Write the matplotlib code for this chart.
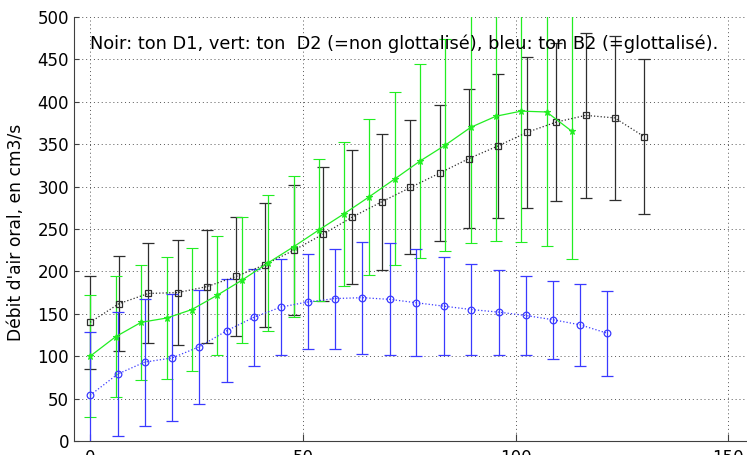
import matplotlib.pyplot as plt

# ton D1 (noir)
x_noir = [0, 6.8, 13.7, 20.6, 27.4, 34.3, 41.1, 47.9, 54.8, 61.6,
          68.5, 75.3, 82.2, 89.0, 95.9, 102.7, 109.5, 116.5, 123.3, 130.2]
y_noir = [140, 162, 174, 175, 182, 194, 208, 225, 244, 264,
          282, 299, 316, 333, 348, 364, 376, 384, 381, 359]
e_noir = [55, 56, 59, 62, 67, 70, 73, 77, 79, 79,
          80, 79, 80, 82, 85, 89, 93, 97, 97, 91]

# ton D2, non glottalisé (vert)
x_vert = [0, 6.0, 12.0, 18.0, 23.9, 29.9, 35.8, 41.8, 47.8, 53.8,
          59.7, 65.6, 71.6, 77.5, 83.5, 89.5, 95.4, 101.3, 107.3, 113.3]
y_vert = [100, 123, 140, 145, 155, 172, 190, 210, 229, 249,
          268, 288, 309, 330, 349, 370, 383, 389, 388, 365]
e_vert = [72, 71, 68, 72, 73, 70, 74, 80, 83, 84,
          85, 92, 102, 114, 125, 136, 147, 154, 158, 150]

# ton B2, glottalisé (bleu)
x_bleu = [0, 6.5, 12.8, 19.3, 25.6, 32.1, 38.5, 44.9, 51.2, 57.6,
          64.0, 70.5, 76.7, 83.2, 89.6, 96.0, 102.4, 108.8, 115.2, 121.6]
y_bleu = [54, 79, 93, 98, 111, 130, 146, 158, 164, 168,
          169, 167, 163, 159, 155, 152, 148, 143, 137, 127]
e_bleu = [74, 73, 75, 75, 67, 61, 57, 57, 56, 59,
          66, 66, 63, 58, 54, 50, 46, 46, 48, 50]

x_ticks = [0, 50, 100, 150]
y_ticks = list(range(0, 501, 50))

titre = "Noir: ton D1, vert: ton  D2 (=non glottalisé), bleu: ton B2 (=glottalisé)."
label_y = "Débit d'air oral, en cm3/s"


def main():
	plt.rcParams['font.family'] = ['DejaVu Sans']

	fig = plt.figure(figsize=(7.47, 4.55), dpi=100)
	# l'axe déborde à droite, comme la figure d'origine recadrée
	ax = fig.add_axes([74 / 747, 14 / 455, 696.8 / 747, 424 / 455])

	noir = '#2e2e2e'
	vert = '#22ee22'
	bleu = '#3a3aff'

	ax.errorbar(x_noir, y_noir, yerr=e_noir, fmt='s:', color=noir, ecolor=noir,
				mfc='none', mec=noir, ms=4.5, mew=0.9, lw=0.9, elinewidth=0.9,
				capsize=4.3, capthick=0.9)
	ax.errorbar(x_vert, y_vert, yerr=e_vert, fmt='*-', color=vert, ecolor=vert,
				mec=vert, ms=5, mew=0.8, lw=0.9, elinewidth=0.9,
				capsize=4.3, capthick=0.9)
	ax.errorbar(x_bleu, y_bleu, yerr=e_bleu, fmt='o:', color=bleu, ecolor=bleu,
				mfc='none', mec=bleu, ms=4.8, mew=0.9, lw=0.9, elinewidth=0.9,
				capsize=4.3, capthick=0.9)

	ax.text(0, 469, titre, fontsize=12.75, va='center', ha='left')

	ax.set_xlim(-3.8, 160)
	ax.set_ylim(0, 500)
	ax.set_xticks(x_ticks)
	ax.set_yticks(y_ticks)

	# grille pointillée façon MATLAB
	ax.grid(True, color='#555555', linestyle=(0, (1, 3)), linewidth=0.7)
	ax.set_axisbelow(True)

	ax.spines['top'].set_visible(False)
	ax.spines['right'].set_visible(False)
	ax.spines['left'].set_color('#404040')
	ax.spines['bottom'].set_color('#404040')

	ax.tick_params(axis='both', direction='in', labelsize=12, colors='#404040',
				   labelcolor='black')
	ax.tick_params(axis='x', length=5, pad=5.5)
	ax.tick_params(axis='y', length=3.5, pad=3.6)

	ax.set_ylabel(label_y, fontsize=12.3)
	ax.yaxis.set_label_coords(-0.071, 0.493)

	plt.savefig("out.png", dpi=100)


if __name__ == '__main__':
	main()
